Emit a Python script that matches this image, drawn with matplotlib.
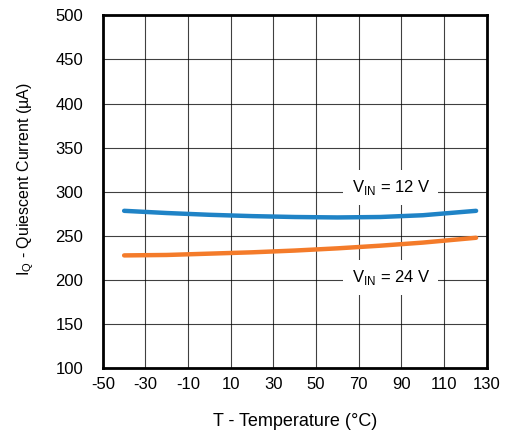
import numpy as np
import matplotlib.pyplot as plt

plt.rcParams['font.family'] = ['Liberation Sans', 'DejaVu Sans']
plt.rcParams['axes.unicode_minus'] = False

# quiescent current vs temperature, read at a few temperatures
temp = [-40, -20, 0, 20, 40, 60, 80, 100, 125]
iq_12v = [278.5, 276.0, 274.0, 272.5, 271.5, 271.0, 271.5, 273.5, 278.5]
iq_24v = [228.0, 228.5, 230.0, 231.5, 233.5, 236.0, 239.0, 242.5, 248.0]

xticks = [-50, -30, -10, 10, 30, 50, 70, 90, 110, 130]
yticks = [100, 150, 200, 250, 300, 350, 400, 450, 500]

fig = plt.figure(figsize=(5.14, 4.36), dpi=100)
ax = fig.add_axes([0.2, 0.155, 0.747, 0.81])

ax.plot(temp, iq_12v, color='#1f83c6', lw=3.2, solid_capstyle='round')
ax.plot(temp, iq_24v, color='#f47b2a', lw=3.2, solid_capstyle='round')

ax.set_xlim(-50, 130)
ax.set_ylim(100, 500)
ax.set_xticks(xticks)
ax.set_yticks(yticks)
ax.grid(True, color='#000000', lw=0.8, alpha=0.75)
ax.tick_params(axis='y', length=0, labelsize=12, pad=14)
ax.tick_params(axis='x', length=0, labelsize=12, pad=6)
for s in ax.spines.values():
    s.set_linewidth(2)

ax.set_xlabel('T - Temperature (°C)', fontsize=13, labelpad=15)
ax.set_ylabel(r'I$_\mathregular{Q}$ - Quiescent Current (µA)', fontsize=11.5)
ax.yaxis.set_label_coords(-0.175, 0.535)

box = dict(facecolor='white', edgecolor='none', pad=6)
ax.text(85, 305, r'V$_\mathregular{IN}$ = 12 V', fontsize=12, ha='center', va='center', bbox=box)
ax.text(85, 203, r'V$_\mathregular{IN}$ = 24 V', fontsize=12, ha='center', va='center', bbox=box)

fig.savefig('out.png', dpi=100)
